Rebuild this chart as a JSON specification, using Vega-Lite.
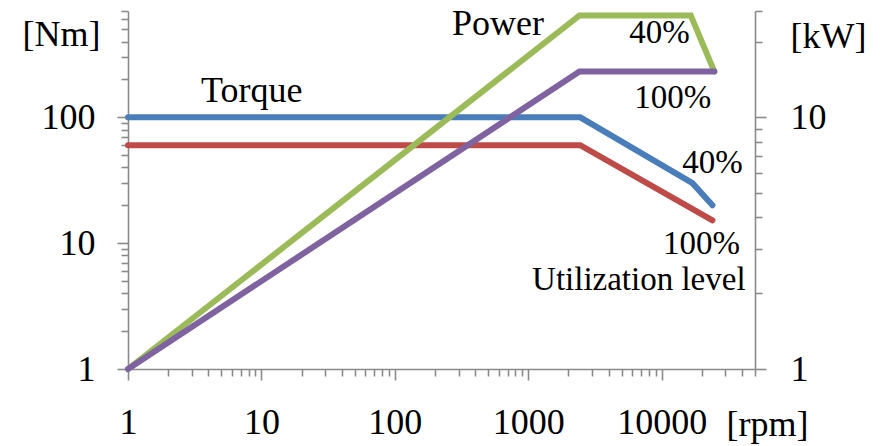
{
  "$schema": "https://vega.github.io/schema/vega-lite/v6.json",
  "width": 627,
  "height": 358,
  "autosize": {"type": "none"},
  "padding": {"left": 128, "top": 11, "right": 128, "bottom": 77},
  "background": "white",
  "config": {"view": {"stroke": null}, "font": "Liberation Serif"},
  "datasets": {
    "torque": [
      {"rpm": 1, "nm": 100, "series": "40%"},
      {"rpm": 2450, "nm": 100, "series": "40%"},
      {"rpm": 17000, "nm": 30, "series": "40%"},
      {"rpm": 24000, "nm": 20, "series": "40%"},
      {"rpm": 1, "nm": 60, "series": "100%"},
      {"rpm": 2450, "nm": 60, "series": "100%"},
      {"rpm": 24000, "nm": 15.2, "series": "100%"}
    ],
    "power": [
      {"rpm": 1, "kw": 1, "series": "40%"},
      {"rpm": 2420, "kw": 25.4, "series": "40%"},
      {"rpm": 16500, "kw": 25.4, "series": "40%"},
      {"rpm": 24800, "kw": 15.2, "series": "40%"},
      {"rpm": 1, "kw": 1, "series": "100%"},
      {"rpm": 2420, "kw": 15.2, "series": "100%"},
      {"rpm": 24800, "kw": 15.2, "series": "100%"}
    ],
    "labels": [
      {"rpm": 3.53, "nm": 132, "text": "Torque", "size": "big"},
      {"rpm": 268, "nm": 452, "text": "Power", "size": "big"},
      {"rpm": 5700, "nm": 390, "text": "40%", "size": "small"},
      {"rpm": 6210, "nm": 119, "text": "100%", "size": "small"},
      {"rpm": 14220, "nm": 36.1, "text": "40%", "size": "small"},
      {"rpm": 10240, "nm": 8.2, "text": "100%", "size": "small"},
      {"rpm": 1067, "nm": 4.25, "text": "Utilization level", "size": "small"}
    ]
  },
  "encoding": {
    "x": {
      "field": "rpm",
      "type": "quantitative",
      "scale": {"type": "log", "domain": [1, 50000]},
      "axis": {
        "values": [1,2,3,4,5,6,7,8,9,10,20,30,40,50,60,70,80,90,100,200,300,400,500,600,700,800,900,1000,2000,3000,4000,5000,6000,7000,8000,9000,10000,20000,30000,40000,50000],
        "format": "d",
        "labelExpr": "abs(log(datum.value)/LN10 - round(log(datum.value)/LN10)) < 0.001 ? datum.label : ''",
        "tickSize": {"condition": {"test": "abs(log(datum.value)/LN10 - round(log(datum.value)/LN10)) < 0.001", "value": 11}, "value": 7},
        "grid": false,
        "domainColor": "#8a8a8a",
        "domainWidth": 1.6,
        "tickColor": "#8a8a8a",
        "tickWidth": 1.6,
        "labelFont": "Liberation Serif",
        "labelFontSize": 36,
        "labelColor": "black",
        "labelBaseline": "alphabetic",
        "labelPadding": 53,
        "labelOverlap": false,
        "labelFlush": false,
        "title": "[rpm]",
        "titleFont": "Liberation Serif",
        "titleFontSize": 36,
        "titleFontWeight": "normal",
        "titleColor": "black",
        "titleAlign": "left",
        "titleBaseline": "alphabetic",
        "titleX": 598,
        "titleY": 66
      }
    }
  },
  "layer": [
    {
      "data": {"name": "torque"},
      "mark": {"type": "line", "strokeWidth": 6, "strokeCap": "round"},
      "encoding": {
        "y": {
          "field": "nm",
          "type": "quantitative",
          "scale": {"type": "log", "domain": [1, 700]},
          "axis": {
            "orient": "left",
            "values": [1,2,3,4,5,6,7,8,9,10,20,30,40,50,60,70,80,90,100,200,300,400,500,600,700],
            "format": "d",
            "labelExpr": "abs(log(datum.value)/LN10 - round(log(datum.value)/LN10)) < 0.001 ? datum.label : ''",
            "tickSize": {"condition": {"test": "abs(log(datum.value)/LN10 - round(log(datum.value)/LN10)) < 0.001", "value": 11}, "value": 7},
            "grid": false,
            "domainColor": "#8a8a8a",
            "domainWidth": 1.6,
            "tickColor": "#8a8a8a",
            "tickWidth": 1.6,
            "labelFont": "Liberation Serif",
            "labelFontSize": 36,
            "labelColor": "black",
            "labelBaseline": "middle",
            "labelPadding": 22,
            "labelOverlap": false,
            "labelFlush": false,
            "title": "[Nm]",
            "titleFont": "Liberation Serif",
            "titleFontSize": 36,
            "titleFontWeight": "normal",
            "titleColor": "black",
            "titleAngle": 0,
            "titleAlign": "left",
            "titleBaseline": "alphabetic",
            "titleX": -106,
            "titleY": 34
          }
        },
        "color": {
          "field": "series",
          "type": "nominal",
          "scale": {"domain": ["40%", "100%"], "range": ["#4A7EBB", "#BE4B48"]},
          "legend": null
        }
      }
    },
    {
      "data": {"name": "power"},
      "mark": {"type": "line", "strokeWidth": 6, "strokeCap": "round"},
      "encoding": {
        "y": {
          "field": "kw",
          "type": "quantitative",
          "scale": {"type": "log", "domain": [1, 26.4575]},
          "axis": {
            "orient": "right",
            "values": [1,2,3,4,5,6,7,8,9,10,20,26.4575],
            "format": "d",
            "labelExpr": "abs(log(datum.value)/LN10 - round(log(datum.value)/LN10)) < 0.001 ? datum.label : ''",
            "tickSize": {"condition": {"test": "abs(log(datum.value)/LN10 - round(log(datum.value)/LN10)) < 0.001", "value": 11}, "value": 7},
            "grid": false,
            "domainColor": "#8a8a8a",
            "domainWidth": 1.6,
            "tickColor": "#8a8a8a",
            "tickWidth": 1.6,
            "labelFont": "Liberation Serif",
            "labelFontSize": 36,
            "labelColor": "black",
            "labelBaseline": "middle",
            "labelPadding": 24,
            "labelOverlap": false,
            "labelFlush": false,
            "title": "[kW]",
            "titleFont": "Liberation Serif",
            "titleFontSize": 36,
            "titleFontWeight": "normal",
            "titleColor": "black",
            "titleAngle": 0,
            "titleAlign": "left",
            "titleBaseline": "alphabetic",
            "titleX": 35,
            "titleY": 36
          }
        },
        "color": {
          "field": "series",
          "type": "nominal",
          "scale": {"domain": ["40%", "100%"], "range": ["#9BBB59", "#7F63A1"]},
          "legend": null
        }
      }
    },
    {
      "data": {"name": "labels"},
      "mark": {"type": "text", "align": "left", "baseline": "alphabetic", "font": "Liberation Serif", "color": "black"},
      "encoding": {
        "y": {"field": "nm", "type": "quantitative", "scale": {"type": "log", "domain": [1, 700]}, "axis": null},
        "text": {"field": "text"},
        "size": {"field": "size", "type": "nominal", "scale": {"domain": ["big", "small"], "range": [36, 33]}, "legend": null}
      }
    }
  ],
  "resolve": {"scale": {"y": "independent", "color": "independent"}}
}
